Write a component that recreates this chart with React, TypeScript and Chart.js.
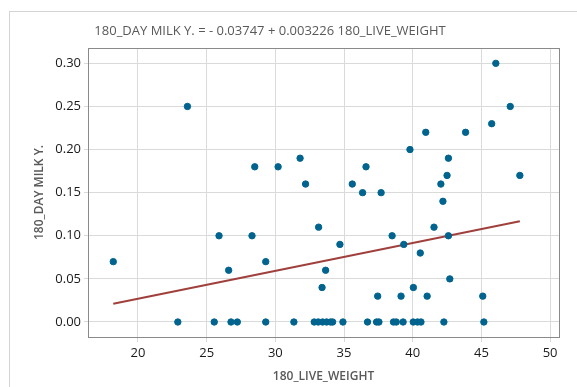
import React, { useEffect, useRef } from "react";
import { Chart, registerables } from "chart.js";

Chart.register(...registerables);

const titleText = "180_DAY MILK Y. = - 0.03747 + 0.003226 180_LIVE_WEIGHT";
const xLabel = "180_LIVE_WEIGHT";
const yLabel = "180_DAY MILK Y.";

const liveWeight = [
  18.2, 23.6, 25.9, 26.6, 28.3, 28.5, 29.3, 30.2, 31.8, 32.2,
  33.15, 33.4, 33.66, 34.7, 35.6, 36.35, 36.6, 37.45, 37.7, 38.5,
  39.15, 39.35, 39.8, 40.05, 40.55, 40.95, 41.05, 41.55, 42.05, 42.2,
  42.5, 42.6, 42.6, 42.7, 43.85, 45.1, 45.75, 46.05, 47.1, 47.8,
  22.9, 25.55, 26.77, 27.23, 29.3, 31.35, 32.83, 33.12, 33.44, 33.73,
  34.02, 34.17, 34.92, 36.71, 37.37, 37.54, 38.6, 38.8, 39.3, 40.04,
  40.35, 40.6, 42.27, 45.18,
];
const milkYield = [
  0.07, 0.25, 0.10, 0.06, 0.10, 0.18, 0.07, 0.18, 0.19, 0.16,
  0.11, 0.04, 0.06, 0.09, 0.16, 0.15, 0.18, 0.03, 0.15, 0.10,
  0.03, 0.09, 0.20, 0.04, 0.08, 0.22, 0.03, 0.11, 0.16, 0.14,
  0.17, 0.19, 0.10, 0.05, 0.22, 0.03, 0.23, 0.30, 0.25, 0.17,
  0, 0, 0, 0, 0, 0, 0, 0, 0, 0,
  0, 0, 0, 0, 0, 0, 0, 0, 0, 0,
  0, 0, 0, 0,
];
const intercept = -0.03747;
const slope = 0.003226;
const fitRange = [18.2, 47.8];

const xTicks = [20, 25, 30, 35, 40, 45, 50];
const yTicks = [0, 0.05, 0.1, 0.15, 0.2, 0.25, 0.3];

const FONT = "'Open Sans', 'Noto Sans', sans-serif";

export default function App() {
  const ref = useRef<HTMLCanvasElement | null>(null);

  useEffect(() => {
    const canvas = ref.current;
    if (!canvas) return;
    const points = liveWeight.map((x, i) => ({ x, y: milkYield[i] }));
    const fit = fitRange.map((x) => ({ x, y: intercept + slope * x }));

    const framePlugin = {
      id: "frameAndTitle",
      afterDraw(chart: any) {
        const { ctx, chartArea } = chart;
        ctx.save();
        ctx.strokeStyle = "#8a8a8a";
        ctx.lineWidth = 1;
        ctx.strokeRect(
          Math.round(chartArea.left) + 0.5,
          Math.round(chartArea.top) + 0.5,
          Math.round(chartArea.right - chartArea.left),
          Math.round(chartArea.bottom - chartArea.top)
        );
        ctx.fillStyle = "#595959";
        ctx.font = `13px ${FONT}`;
        ctx.textAlign = "center";
        ctx.textBaseline = "middle";
        ctx.fillText(titleText, 270, 31);
        ctx.restore();
      },
    };

    const chart = new Chart(canvas, {
      type: "scatter",
      data: {
        datasets: [
          {
            type: "scatter",
            data: points,
            backgroundColor: "#00648f",
            borderColor: "#00648f",
            pointRadius: 3.2,
            pointHoverRadius: 3.2,
            order: 1,
          },
          {
            type: "line",
            data: fit,
            borderColor: "#a0403c",
            borderWidth: 2,
            pointRadius: 0,
            fill: false,
            order: 2,
          } as any,
        ],
      },
      options: {
        responsive: false,
        animation: false,
        layout: { padding: { top: 48, right: 18, bottom: 0, left: 0 } },
        plugins: {
          legend: { display: false },
          tooltip: { enabled: false },
          title: { display: false },
        },
        scales: {
          x: {
            type: "linear",
            min: 16.36,
            max: 50.65,
            afterBuildTicks: (scale: any) => {
              scale.ticks = xTicks.map((v) => ({ value: v }));
            },
            afterFit: (scale: any) => {
              scale.height = 50;
            },
            grid: { color: "#dadada", tickLength: 5, drawTicks: true },
            border: { display: false },
            ticks: {
              color: "#1a1a1a",
              font: { family: FONT, size: 13 },
              padding: 3,
              maxRotation: 0,
            },
            title: {
              display: true,
              text: xLabel,
              color: "#595959",
              font: { family: FONT, size: 12, weight: "600" },
              padding: { top: 0, bottom: 3 },
            },
          },
          y: {
            type: "linear",
            min: -0.0174,
            max: 0.3178,
            afterBuildTicks: (scale: any) => {
              scale.ticks = yTicks.map((v) => ({ value: v }));
            },
            afterFit: (scale: any) => {
              scale.width = 88;
            },
            grid: { color: "#dadada", tickLength: 4, drawTicks: true },
            border: { display: false },
            ticks: {
              color: "#1a1a1a",
              font: { family: FONT, size: 13 },
              padding: 3,
              callback: (v: any) => Number(v).toFixed(2),
            },
            title: {
              display: true,
              text: yLabel,
              color: "#595959",
              font: { family: FONT, size: 12, weight: "600" },
              padding: { top: 32, bottom: 0 },
            },
          },
        },
      },
      plugins: [framePlugin],
    });
    return () => chart.destroy();
  }, []);

  return (
    <div style={{ position: "absolute", left: 0, top: 0, width: 577, height: 387, background: "#fff" }}>
      <div
        style={{
          position: "absolute",
          left: 9,
          top: 11,
          right: 0,
          bottom: 0,
          borderLeft: "1px solid #d4d4d4",
          borderTop: "1px solid #d4d4d4",
        }}
      />
      <canvas ref={ref} width={577} height={387} style={{ position: "absolute", left: 0, top: 0, display: "block" }} />
    </div>
  );
}
